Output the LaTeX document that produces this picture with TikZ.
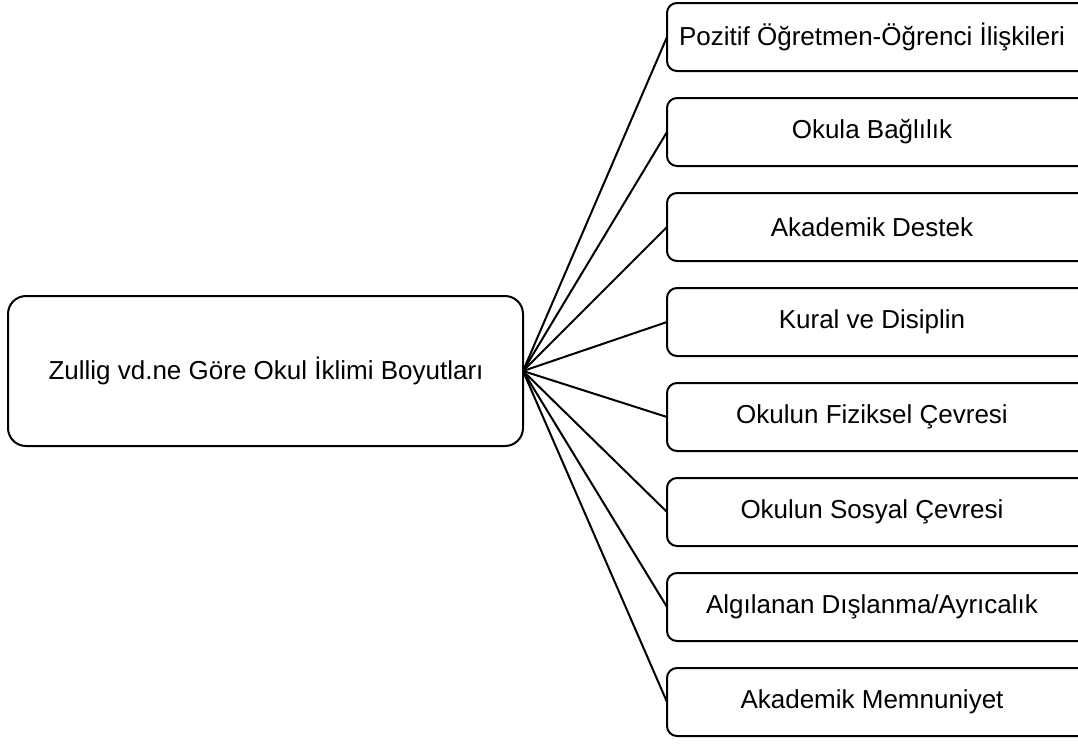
\documentclass[tikz,border=0pt]{standalone}
\usepackage{fontspec}
\setmainfont{Liberation Sans}
\begin{document}
\begin{tikzpicture}[x=1pt,y=-1pt,
  box/.style={draw=black,line width=2pt,rounded corners=10pt,fill=white},
  link/.style={draw=black,line width=2pt},
  lbl/.style={font=\fontsize{26}{30}\selectfont,anchor=center}]
\useasboundingbox (0,0) rectangle (1078,747);
% central box
\draw[box,rounded corners=18pt] (8,296) rectangle (523,446);
\coordinate (hub) at (523,371);
\node[lbl] (main) at (266,371) {Zullig vd.ne Göre Okul İklimi Boyutları};
% dimension boxes
\foreach \i/\t in {0/{Pozitif Öğretmen-Öğrenci İlişkileri},1/{Okula Bağlılık},2/{Akademik Destek},3/{Kural ve Disiplin},4/{Okulun Fiziksel Çevresi},5/{Okulun Sosyal Çevresi},6/{Algılanan Dışlanma/Ayrıcalık},7/{Akademik Memnuniyet}}{
  \pgfmathsetmacro{\top}{3+95*\i}
  \coordinate (d\i) at (667,\top+34);
  \draw[link] (hub) -- (d\i);
  \draw[box] (667,\top) rectangle (1090,\top+68);
  \node[lbl] (t\i) at (872,\top+34) {\t};
}
\end{tikzpicture}
\end{document}
